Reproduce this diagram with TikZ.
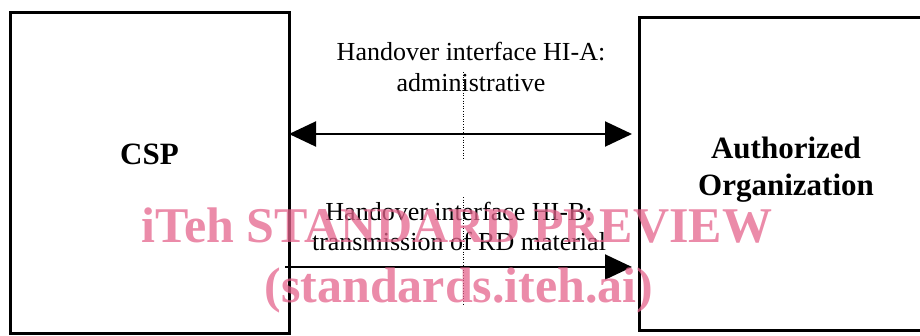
\documentclass[tikz,border=0pt]{standalone}
\usepackage{fontspec}
\setmainfont{Liberation Serif}
\usetikzlibrary{arrows.meta}
\definecolor{wm}{RGB}{228,100,140}
\begin{document}
\begin{tikzpicture}[x=1pt,y=-1pt,
  box/.style={draw, line width=3pt, inner sep=0pt, outer sep=0pt},
  lbl/.style={anchor=base, inner sep=0pt, font=\fontsize{26}{31}\selectfont},
  bigl/.style={anchor=base, inner sep=0pt, font=\bfseries\fontsize{31}{37}\selectfont},
  wmark/.style={anchor=base, inner sep=0pt, text=wm, opacity=0.75, font=\bfseries\fontsize{50}{60}\selectfont},
  arr/.style={line width=2pt, -{Triangle[length=27pt,width=25pt]}},
  arrb/.style={line width=2pt, {Triangle[length=27pt,width=25pt]}-{Triangle[length=27pt,width=25pt]}},
  dot/.style={line width=0.9pt, dash pattern=on 1pt off 1.6pt}]
\useasboundingbox (0,0) rectangle (920,335);
\clip (0,0) rectangle (920,335);
\node[box, minimum width=279pt, minimum height=321pt] (csp) at (149.5,172.5) {};
\node[box, minimum width=301pt, minimum height=313pt] (ao) at (789.5,173.5) {};
\node[bigl] (csptxt) at (149.5,164) {CSP};
\node[bigl] (ao1) at (786,158) {Authorized};
\node[bigl] (ao2) at (786,195) {Organization};
\node[lbl] (ha1) at (471,60) {Handover interface HI-A:};
\node[lbl] (ha2) at (471,91) {administrative};
\node[lbl] (hb1) at (459,220) {Handover interface HI-B:};
\node[lbl] (hb2) at (459,250) {transmission of RD material};
\coordinate (d1a) at (463,72);
\coordinate (d1b) at (463,160);
\coordinate (d2a) at (463,197);
\coordinate (d2b) at (463,305);
\draw[dot] (d1a) -- (d1b);
\draw[dot] (d2a) -- (d2b);
\draw[arrb] (csp.east |- 0,134) -- ([xshift=-7pt]ao.west |- 0,134);
\draw[arr] ([xshift=-4pt]csp.east |- 0,267) -- ([xshift=-7pt]ao.west |- 0,267);
\node[wmark] (w1) at (457,242) {iTeh STANDARD PREVIEW};
\node[wmark] (w2) at (459,302) {(standards.iteh.ai)};
\end{tikzpicture}
\end{document}
